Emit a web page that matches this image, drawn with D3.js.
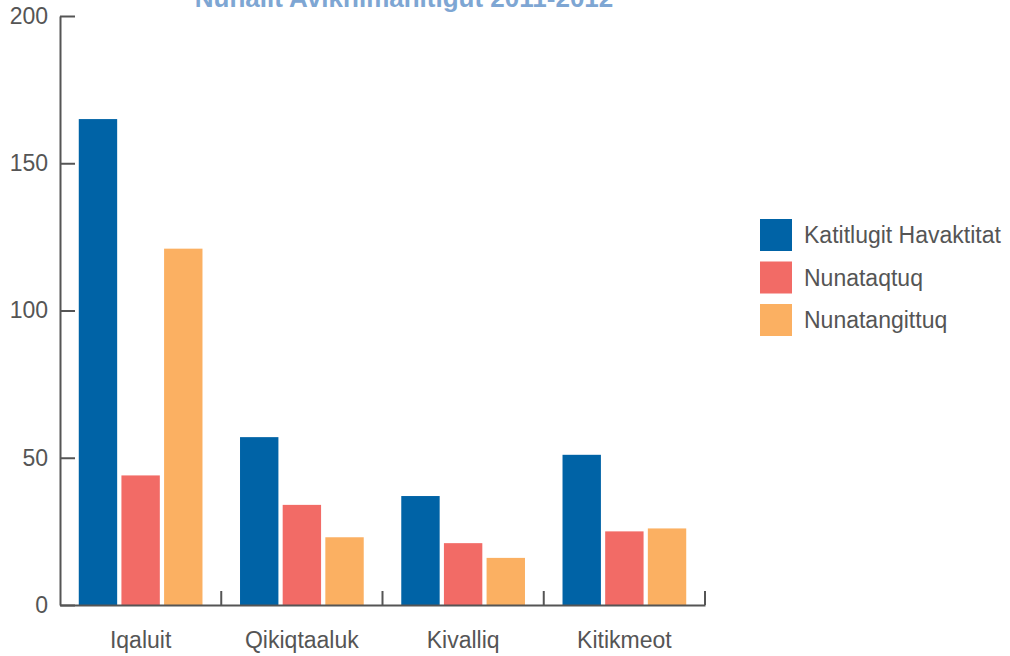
<!DOCTYPE html>
<html>
<head>
<meta charset="utf-8">
<script src="https://cdn.jsdelivr.net/npm/d3@7/dist/d3.min.js"></script>
<style>
  body { margin: 0; background: #fff; }
  svg text { font-family: "Liberation Sans", Arial, sans-serif; }
</style>
</head>
<body>
<div id="chart"></div>
<script>
// Chart data
const regions = ["Iqaluit", "Qikiqtaaluk", "Kivalliq", "Kitikmeot"];
const seriesNames = ["Katitlugit Havaktitat", "Nunataqtuq", "Nunatangittuq"];
const totalValues = [165, 57, 37, 51];
const nunataqtuqValues = [44, 34, 21, 25];
const nunatangittuqValues = [121, 23, 16, 26];
const yTicks = [0, 50, 100, 150, 200];
const colours = ["#0063a6", "#f26b66", "#fbb062"];
const titleText = "Nunalit Avikhimanitigut 2011-2012";

const seriesValues = [totalValues, nunataqtuqValues, nunatangittuqValues];

//Dimensions of the svg and the plot area inside it
const width = 1010, height = 656;
const margin = {left: 60, top: 16, right: 305, bottom: 51};
const plotW = width - margin.left - margin.right;
const plotH = height - margin.top - margin.bottom;

const svg = d3.select("#chart")
    .append("svg")
    .attr("width", width)
    .attr("height", height);

const g = svg.append("g")
    .attr("transform", `translate(${margin.left},${margin.top})`);

//Scales
const x0 = d3.scaleBand()
    .domain(regions)
    .range([0, plotW])
    .padding(0);

const x1 = d3.scaleBand()
    .domain(seriesNames)
    .range([0, x0.bandwidth()])
    .paddingInner(0.1)
    .paddingOuter(0.44);

const y = d3.scaleLinear()
    .domain([0, 200])
    .range([plotH, 0]);

//Bars, one group per region
const groups = g.selectAll(".region")
    .data(regions)
    .enter()
    .append("g")
    .attr("class", "region")
    .attr("transform", d => `translate(${x0(d)},0)`);

groups.selectAll("rect")
    .data((d, i) => seriesNames.map((s, j) => ({series: s, value: seriesValues[j][i], idx: j})))
    .enter()
    .append("rect")
    .attr("x", d => x1(d.series))
    .attr("y", d => y(d.value))
    .attr("width", x1.bandwidth())
    .attr("height", d => plotH - y(d.value))
    .attr("fill", d => colours[d.idx]);

//Y axis with ticks pointing into the plot
const yAxis = g.append("g")
    .call(d3.axisLeft(y).tickValues(yTicks).tickSizeInner(-15).tickSizeOuter(0).tickPadding(12));
yAxis.select(".domain").attr("stroke", "#555").attr("stroke-width", 2);
yAxis.selectAll(".tick line").attr("stroke", "#555").attr("stroke-width", 2);
yAxis.selectAll(".tick text")
    .attr("fill", "#555")
    .style("font-size", "23px");

//X axis: labels under band centres, separators at band edges
const xAxis = g.append("g")
    .attr("transform", `translate(0,${plotH})`)
    .call(d3.axisBottom(x0).tickSize(0).tickPadding(27));
xAxis.select(".domain").attr("stroke", "#555").attr("stroke-width", 2);
xAxis.selectAll(".tick text")
    .attr("fill", "#555")
    .style("font-size", "23px");

xAxis.selectAll(".sep")
    .data(regions)
    .enter()
    .append("line")
    .attr("class", "sep")
    .attr("x1", d => x0(d) + x0.bandwidth())
    .attr("x2", d => x0(d) + x0.bandwidth())
    .attr("y1", 0)
    .attr("y2", -14)
    .attr("stroke", "#555")
    .attr("stroke-width", 2);

//Title, partly cut by the top edge
svg.append("text")
    .attr("x", 404)
    .attr("y", 7)
    .attr("text-anchor", "middle")
    .attr("fill", "#7ea6d3")
    .style("font-size", "26px")
    .style("font-weight", "bold")
    .text(titleText);

//Legend
const legend = svg.append("g")
    .attr("transform", "translate(760,219)");

const items = legend.selectAll(".item")
    .data(seriesNames)
    .enter()
    .append("g")
    .attr("class", "item")
    .attr("transform", (d, i) => `translate(0,${i * 42.5})`);

items.append("rect")
    .attr("width", 32)
    .attr("height", 32)
    .attr("fill", (d, i) => colours[i]);

items.append("text")
    .attr("x", 44)
    .attr("y", 16)
    .attr("dy", "0.35em")
    .attr("fill", "#555")
    .style("font-size", "23px")
    .text(d => d);
</script>
</body>
</html>
